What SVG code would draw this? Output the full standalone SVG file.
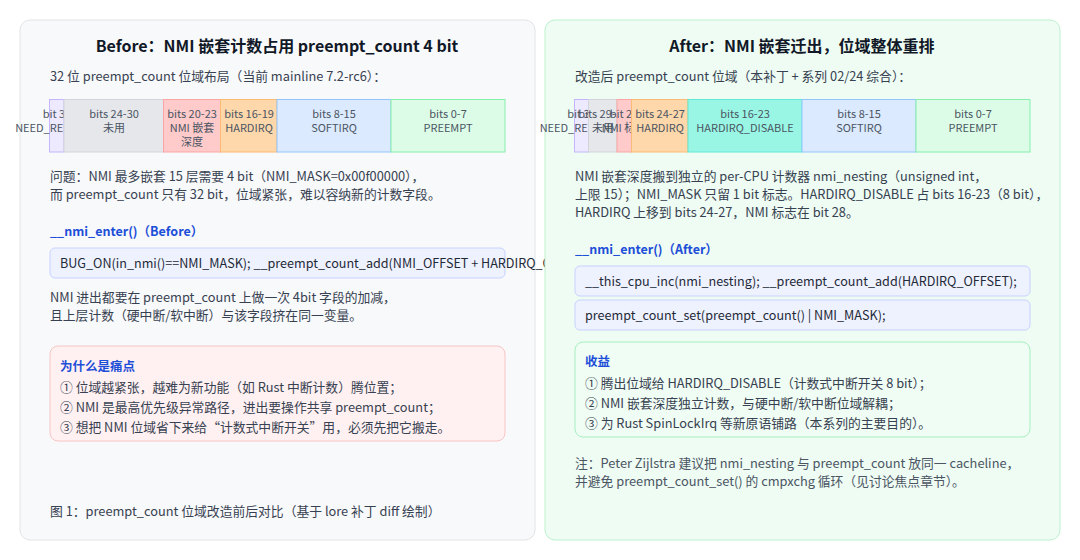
<svg xmlns="http://www.w3.org/2000/svg" width="1080" height="560" viewBox="0 0 1080 560">
<style>
text{font-family:"Noto Sans CJK SC","Noto Sans",sans-serif;fill:#374151}
.t{font-size:16px;font-weight:bold;fill:#111827;text-anchor:middle}
.b{font-size:12.8px}
.n{font-size:12.8px;fill:#4b5563}
.h{font-size:12.5px;font-weight:bold;fill:#1d4ed8}
.c{font-size:12.6px;fill:#1f2937}
.s{font-size:11px;fill:#4b5563;text-anchor:middle}
.code{fill:#eef2ff;stroke:#c7d2fe;stroke-width:1}
.pu{fill:#ede9fe;stroke:#c4b5fd}.gr{fill:#e5e7eb;stroke:#d1d5db}.re{fill:#fecaca;stroke:#fca5a5}
.or{fill:#fed7aa;stroke:#fdba74}.bl{fill:#dbeafe;stroke:#93c5fd}.gn{fill:#dcfce7;stroke:#86efac}.te{fill:#99f6e4;stroke:#5eead4}
</style>
<rect width="1080" height="560" fill="#ffffff"/>
<g id="before">
<rect x="20" y="20" width="515" height="520" rx="10" fill="#f8f9fb" stroke="#e2e4e8"/>
<text class="t" x="277" y="52">Before：NMI 嵌套计数占用 preempt_count 4 bit</text>
<text class="b" x="50" y="81">32 位 preempt_count 位域布局（当前 mainline 7.2-rc6）：</text>
<g id="bar-before">
<rect class="pu" x="49.5" y="99.5" width="14.5" height="52.5"/><text class="s" x="57" y="118">bit 31</text><text class="s" x="57" y="132">NEED_RESCHED</text>
<rect class="gr" x="64" y="99.5" width="99.5" height="52.5"/><text class="s" x="114" y="118">bits 24-30</text><text class="s" x="114" y="132">未用</text>
<rect class="re" x="163.5" y="99.5" width="57" height="52.5"/><text class="s" x="192" y="118">bits 20-23</text><text class="s" x="192" y="132">NMI 嵌套</text><text class="s" x="192" y="146">深度</text>
<rect class="or" x="220.5" y="99.5" width="56.5" height="52.5"/><text class="s" x="249" y="118">bits 16-19</text><text class="s" x="249" y="132">HARDIRQ</text>
<rect class="bl" x="277" y="99.5" width="114" height="52.5"/><text class="s" x="334" y="118">bits 8-15</text><text class="s" x="334" y="132">SOFTIRQ</text>
<rect class="gn" x="391" y="99.5" width="114" height="52.5"/><text class="s" x="448" y="118">bits 0-7</text><text class="s" x="448" y="132">PREEMPT</text>
</g>
<text class="b" x="50" y="181">问题：NMI 最多嵌套 15 层需要 4 bit（NMI_MASK=0x00f00000），</text>
<text class="b" x="50" y="199">而 preempt_count 只有 32 bit，位域紧张，难以容纳新的计数字段。</text>
<text class="h" x="50" y="236">__nmi_enter()（Before）</text>
<rect class="code" x="50" y="248" width="455" height="30" rx="5"/>
<text class="c" x="60" y="268">BUG_ON(in_nmi()==NMI_MASK); __preempt_count_add(NMI_OFFSET + HARDIRQ_OFFSET);</text>
<text class="b" x="50" y="302">NMI 进出都要在 preempt_count 上做一次 4bit 字段的加减，</text>
<text class="b" x="50" y="320">且上层计数（硬中断/软中断）与该字段挤在同一变量。</text>
<g id="pain">
<rect x="50" y="346" width="455" height="95" rx="8" fill="#fff1f1" stroke="#f8c4c4"/>
<text class="h" x="60" y="371">为什么是痛点</text>
<text class="b" x="60" y="392">① 位域越紧张，越难为新功能（如 Rust 中断计数）腾位置；</text>
<text class="b" x="60" y="412">② NMI 是最高优先级异常路径，进出要操作共享 preempt_count；</text>
<text class="b" x="60" y="432">③ 想把 NMI 位域省下来给“计数式中断开关”用，必须先把它搬走。</text>
</g>
<text class="b" x="50" y="516">图 1：preempt_count 位域改造前后对比（基于 lore 补丁 diff 绘制）</text>
</g>
<g id="after">
<rect x="545" y="20" width="515" height="520" rx="10" fill="#eefcf3" stroke="#bdf0cd"/>
<text class="t" x="802" y="52">After：NMI 嵌套迁出，位域整体重排</text>
<text class="b" x="575" y="81">改造后 preempt_count 位域（本补丁 + 系列 02/24 综合）：</text>
<g id="bar-after">
<rect class="pu" x="574.5" y="99.5" width="14" height="52.5"/><text class="s" x="581.5" y="118">bit 31</text><text class="s" x="581.5" y="132">NEED_RESCHED</text>
<rect class="gr" x="588.5" y="99.5" width="28.5" height="52.5"/><text class="s" x="603" y="118">bits 29-30</text><text class="s" x="603" y="132">未用</text>
<rect class="re" x="617" y="99.5" width="14.5" height="52.5"/><text class="s" x="624" y="118">bit 28</text><text class="s" x="624" y="132">NMI 标志</text>
<rect class="or" x="631.5" y="99.5" width="56.5" height="52.5"/><text class="s" x="660" y="118">bits 24-27</text><text class="s" x="660" y="132">HARDIRQ</text>
<rect class="te" x="688" y="99.5" width="114" height="52.5"/><text class="s" x="745" y="118">bits 16-23</text><text class="s" x="745" y="132">HARDIRQ_DISABLE</text>
<rect class="bl" x="802" y="99.5" width="114" height="52.5"/><text class="s" x="859" y="118">bits 8-15</text><text class="s" x="859" y="132">SOFTIRQ</text>
<rect class="gn" x="916" y="99.5" width="114" height="52.5"/><text class="s" x="973" y="118">bits 0-7</text><text class="s" x="973" y="132">PREEMPT</text>
</g>
<text class="b" x="575" y="181">NMI 嵌套深度搬到独立的 per-CPU 计数器 nmi_nesting（unsigned int，</text>
<text class="b" x="575" y="199">上限 15）；NMI_MASK 只留 1 bit 标志。HARDIRQ_DISABLE 占 bits 16-23（8 bit），</text>
<text class="b" x="575" y="217">HARDIRQ 上移到 bits 24-27，NMI 标志在 bit 28。</text>
<text class="h" x="575" y="254">__nmi_enter()（After）</text>
<rect class="code" x="575" y="266" width="455" height="30" rx="5"/>
<text class="c" x="585" y="286">__this_cpu_inc(nmi_nesting); __preempt_count_add(HARDIRQ_OFFSET);</text>
<rect class="code" x="575" y="300" width="455" height="30" rx="5"/>
<text class="c" x="585" y="320">preempt_count_set(preempt_count() | NMI_MASK);</text>
<g id="benefit">
<rect x="575" y="342" width="455" height="95" rx="8" fill="#f0fdf4" stroke="#a7efc0"/>
<text class="h" x="585" y="366">收益</text>
<text class="b" x="585" y="388">① 腾出位域给 HARDIRQ_DISABLE（计数式中断开关 8 bit）；</text>
<text class="b" x="585" y="408">② NMI 嵌套深度独立计数，与硬中断/软中断位域解耦；</text>
<text class="b" x="585" y="428">③ 为 Rust SpinLockIrq 等新原语铺路（本系列的主要目的）。</text>
</g>
<text class="n" x="575" y="468">注：Peter Zijlstra 建议把 nmi_nesting 与 preempt_count 放同一 cacheline，</text>
<text class="n" x="575" y="486">并避免 preempt_count_set() 的 cmpxchg 循环（见讨论焦点章节）。</text>
</g>
</svg>
